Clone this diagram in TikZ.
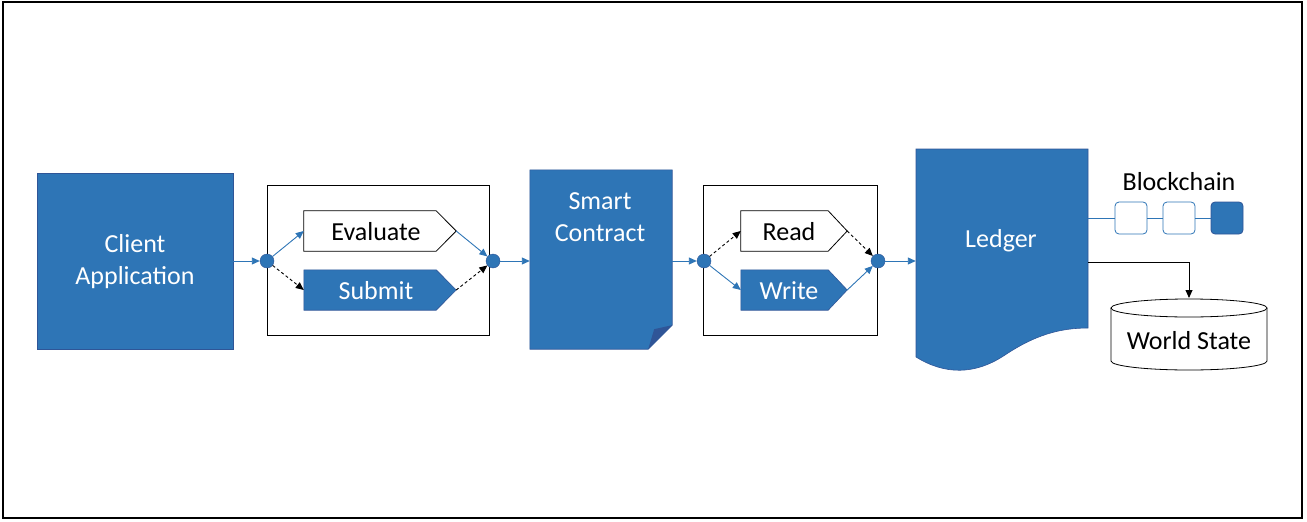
\documentclass[tikz,border=0pt]{standalone}
\usepackage{fontspec}
\setmainfont{Carlito}
\usetikzlibrary{arrows.meta,calc}
\definecolor{obl}{RGB}{46,117,182}
\definecolor{obd}{RGB}{47,85,151}
\begin{document}
\begin{tikzpicture}[x=1pt,y=-1pt,
  txt/.style={font=\fontsize{26}{32}\selectfont,align=center,inner sep=0},
  wtxt/.style={txt,text=white},
  bluebox/.style={fill=obl,draw=obd,line width=0.6pt},
  whitebox/.style={fill=white,draw=black,line width=0.8pt},
  frame/.style={draw=black,line width=1pt},
  dot/.style={circle,fill=obl,draw=obd,line width=0.4pt,minimum size=14pt,inner sep=0},
  barr/.style={draw=obl,line width=0.9pt,-{Triangle[length=8pt,width=7pt]}},
  darr/.style={draw=black,dashed,dash pattern=on 3pt off 2.5pt,line width=0.9pt,-{Triangle[length=8pt,width=7pt]}},
  karr/.style={draw=black,line width=0.9pt,-{Triangle[length=8pt,width=7pt]}},
  bline/.style={draw=obl,line width=0.9pt},
  blk/.style={rounded corners=4pt,draw=obl,line width=0.8pt,minimum size=32pt,inner sep=0}
]
\useasboundingbox (0,0) rectangle (1307,522);
\draw[line width=1.2pt] (3,2) rectangle (1302,518);

% Client application
\node[bluebox,minimum width=196,minimum height=176,inner sep=0] (client) at (135,261) {};
\node[wtxt] at (135,262) {Client\\Application};

% box 1
\node[frame,minimum width=222,minimum height=150,inner sep=0] (box1) at (378,260) {};
\node[dot] (d1) at (267,261) {};
\node[dot] (d2) at (493,261) {};

% Evaluate
\node[minimum width=132,minimum height=40,inner sep=0] (ev) at (370,231) {};
\coordinate (evtip) at ($(ev.east)+(20,0)$);
\path[whitebox] (ev.north west) -- (ev.north east) -- (evtip) -- (ev.south east) -- (ev.south west) -- cycle;
\node[txt] at (376,232) {Evaluate};

% Submit
\node[minimum width=132,minimum height=40,inner sep=0] (sb) at (370,290) {};
\coordinate (sbtip) at ($(sb.east)+(20,0)$);
\path[bluebox] (sb.north west) -- (sb.north east) -- (sbtip) -- (sb.south east) -- (sb.south west) -- cycle;
\node[wtxt] at (376,291) {Submit};

% Smart contract
\node[minimum width=142,minimum height=179,inner sep=0] (sc) at (601,259.5) {};
\path[bluebox] (sc.north west) -- (sc.north east) -- ($(sc.south east)+(0,-24)$) -- ($(sc.south east)+(-24,0)$) -- (sc.south west) -- cycle;
\path[fill=obd] ($(sc.south east)+(0,-24)$) -- ($(sc.south east)+(-18,-20)$) -- ($(sc.south east)+(-24,0)$) -- cycle;
\node[wtxt] at (600,217) {Smart\\Contract};

% box 2
\node[frame,minimum width=174,minimum height=150,inner sep=0] (box2) at (790,260) {};
\node[dot] (d3) at (704,261) {};
\node[dot] (d4) at (878,261) {};

% Read
\node[minimum width=87,minimum height=40,inner sep=0] (rd) at (784.5,231) {};
\coordinate (rdtip) at ($(rd.east)+(19,0)$);
\path[whitebox] (rd.north west) -- (rd.north east) -- (rdtip) -- (rd.south east) -- (rd.south west) -- cycle;
\node[txt] at (789,232) {Read};

% Write
\node[minimum width=87,minimum height=40,inner sep=0] (wr) at (784.5,290) {};
\coordinate (wrtip) at ($(wr.east)+(19,0)$);
\path[bluebox] (wr.north west) -- (wr.north east) -- (wrtip) -- (wr.south east) -- (wr.south west) -- cycle;
\node[wtxt] at (789,291) {Write};

% Ledger
\node[minimum width=172,minimum height=208,inner sep=0] (ld) at (1002,253) {};
\path[bluebox] (916,149) -- (1088,149) -- (1088,328)
  .. controls (1060,328) and (1035,335) .. (1005,355)
  .. controls (975,375) and (945,375) .. (916,357) -- cycle;
\node[wtxt] at (1001,241) {Ledger};

% Blockchain
\node[txt] (bctxt) at (1179,182) {Blockchain};
\node[blk,fill=white] (b1) at (1131,218) {};
\node[blk,fill=white] (b2) at (1179,218) {};
\node[blk,fill=obl,draw=obd] (b3) at (1227,218) {};
\draw[bline] (1088,218) -- (b1.west);
\draw[bline] (b1.east) -- (b2.west);
\draw[bline] (b2.east) -- (b3.west);

% World state
\node[minimum width=156,minimum height=71,inner sep=0] (ws) at (1189,334.5) {};
\draw[fill=white,line width=0.8pt] (1111,308) -- (1111,361)
  .. controls (1111,366) and (1146,370) .. (1189,370)
  .. controls (1232,370) and (1267,366) .. (1267,361) -- (1267,308);
\draw[fill=white,line width=0.8pt] (1189,308) ellipse[x radius=78,y radius=9];
\node[txt] at (1189,341) {World State};
\coordinate (wstop) at (1189,298);
\coordinate (ldo) at (1088,262);
\draw[karr] (ldo) -| (wstop);

% connectors
\draw[barr] (client.east |- d1) -- (d1);
\draw[barr] (d1) -- (ev.west);
\draw[darr] (d1) -- (sb.west);
\draw[barr] (evtip) -- (d2);
\draw[darr] (sbtip) -- (d2);
\draw[barr] (d2) -- (sc.west |- d2);
\draw[barr] (sc.east |- d3) -- (d3);
\draw[darr] (d3) -- (rd.west);
\draw[barr] (d3) -- (wr.west);
\draw[darr] (rdtip) -- (d4);
\draw[barr] (wrtip) -- (d4);
\draw[barr] (d4) -- (ld.west |- d4);
\end{tikzpicture}
\end{document}
